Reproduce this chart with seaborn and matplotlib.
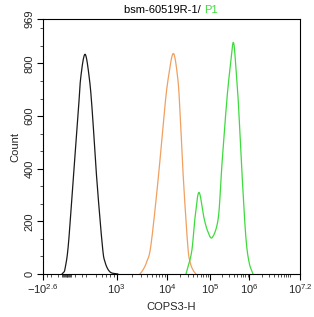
import numpy as np
import matplotlib
matplotlib.use("Agg")
import matplotlib.pyplot as plt
import seaborn as sns

# ---------------- data ----------------
black_x = [-50, -35, -16, 20, 77, 144, 183, 267, 377, 432, 504, 612, 671, 796, 1060]
black_y = [0, 5, 20, 110, 365, 616, 745, 835, 745, 616, 365, 110, 46, 8, 0]

orange_x = [2880, 3300, 3920, 4760, 6640, 8730, 10550, 13830, 17540, 19860,
            23730, 30060, 34040, 40000, 47000]
orange_y = [0, 15, 46, 110, 365, 616, 745, 838, 745, 616, 365, 110, 46, 15, 0]

green_x = [27400, 37200, 44500, 55200, 72300, 89700, 114500, 162500, 198000,
           266000, 323000, 392000, 459000, 525000, 641000, 809000, 982000, 1233000]
green_y = [0, 85, 213, 310, 213, 160, 139, 213, 402, 655, 781, 880, 781, 655,
           402, 148, 46, 0]

ytick_vals = [0, 200, 400, 600, 800, 969]
xtick_vals = [-10 ** 2.6, 1e3, 1e4, 1e5, 1e6, 10 ** 7.2]
xtick_labels = [r"$-10^{2.6}$", r"$10^{3}$", r"$10^{4}$", r"$10^{5}$",
                r"$10^{6}$", r"$10^{7.2}$"]
title_main = "bsm-60519R-1/ "
title_gate = "P1"
xlabel = "COPS3-H"
ylabel = "Count"

# ---------------- style ----------------
sns.set_style("ticks")
plt.rcParams["font.family"] = ["Liberation Sans", "DejaVu Sans"]
plt.rcParams["mathtext.fontset"] = "custom"
plt.rcParams["mathtext.rm"] = "Liberation Sans"
plt.rcParams["mathtext.it"] = "Liberation Sans"
plt.rcParams["mathtext.bf"] = "Liberation Sans"
FS = 8

# ---------------- display transform (logicle-like axis) ----------------
_C = 150.0
_ANCH = np.array([-10 ** 2.6, 0, 10 ** 2.6, 1e3, 1e4, 1e5, 1e6, 1e7, 10 ** 7.2])
_G = np.arcsinh(_ANCH / _C)
_P = np.array([0.0, 23.5, 47.0, 73.7, 124.3, 167.0, 206.3, 247.0, 257.0])


def _interp(v, xp, fp):
    v = np.asarray(v, dtype=float)
    shp = v.shape
    v = np.atleast_1d(v)
    out = np.interp(v, xp, fp)
    lo = v < xp[0]
    hi = v > xp[-1]
    out[lo] = fp[0] + (v[lo] - xp[0]) * (fp[1] - fp[0]) / (xp[1] - xp[0])
    out[hi] = fp[-1] + (v[hi] - xp[-1]) * (fp[-1] - fp[-2]) / (xp[-1] - xp[-2])
    return out.reshape(shp)


def fwd(x):
    return _interp(np.arcsinh(np.asarray(x, dtype=float) / _C), _G, _P)


def inv(p):
    g = _interp(p, _P, _G)
    return _C * np.sinh(np.clip(g, -700, 700))


def smooth(xs, ys, n=24):
    u = fwd(np.array(xs, dtype=float))
    y = np.array(ys, dtype=float)
    pu = np.concatenate([[2 * u[0] - u[1]], u, [2 * u[-1] - u[-2]]])
    py = np.concatenate([[2 * y[0] - y[1]], y, [2 * y[-1] - y[-2]]])
    uu, yy = [], []
    t = np.linspace(0, 1, n, endpoint=False)
    for i in range(1, len(pu) - 2):
        for arr, res in ((pu, uu), (py, yy)):
            p0, p1, p2, p3 = arr[i - 1], arr[i], arr[i + 1], arr[i + 2]
            res.extend(0.5 * ((2 * p1) + (-p0 + p2) * t
                              + (2 * p0 - 5 * p1 + 4 * p2 - p3) * t ** 2
                              + (-p0 + 3 * p1 - 3 * p2 + p3) * t ** 3))
    uu.append(u[-1])
    yy.append(y[-1])
    return inv(np.array(uu)), np.clip(np.array(yy), 0, None)


# ---------------- figure ----------------
fig = plt.figure(figsize=(3.14, 3.17), dpi=100)
ax = fig.add_axes([43 / 314, 1 - 274 / 317, 257 / 314, 255 / 317])
ax.set_xscale("function", functions=(fwd, inv))

for xs, ys, col in ((black_x, black_y, "#1a1a1a"),
                    (orange_x, orange_y, "#f0a060"),
                    (green_x, green_y, "#3edb3e")):
    sx, sy = smooth(xs, ys)
    sns.lineplot(x=sx, y=sy, ax=ax, sort=False, estimator=None,
                 color=col, linewidth=0.9)

ax.set_xlim(-10 ** 2.6, 10 ** 7.2)
ax.set_ylim(0, 969)

# y ticks
ax.set_yticks(ytick_vals)
ax.set_yticklabels([str(v) for v in ytick_vals], rotation=90, va="center",
                   fontsize=FS)
ax.set_yticks([v for v in np.arange(0, 969, 200 / 3) if min(abs(v - np.array(ytick_vals))) > 1],
              minor=True)

# x ticks
ax.set_xticks(xtick_vals)
ax.set_xticklabels(xtick_labels, fontsize=FS)
xminor = [-300, -200, -100] + list(range(-50, 51, 10)) + [100, 200, 300] + \
         list(range(500, 1000, 100))
for k in range(3, 7):
    xminor += [m * 10 ** k for m in range(2, 10)]
xminor.append(1e7)
ax.set_xticks(xminor, minor=True)

ax.tick_params(which="major", length=4, width=0.8, color="black", pad=2,
               direction="out")
ax.tick_params(which="minor", length=2.5, width=0.6, color="#333333",
               direction="out")
for s in ax.spines.values():
    s.set_visible(True)
    s.set_linewidth(0.8)
    s.set_color("black")

ax.set_xlabel(xlabel, fontsize=FS, labelpad=4)
ax.set_ylabel(ylabel, fontsize=FS, labelpad=3)

# two-colour title
fig.canvas.draw()
r = fig.canvas.get_renderer()
t1 = fig.text(0, 0, title_main, fontsize=FS, color="black")
t2 = fig.text(0, 0, title_gate, fontsize=FS, color="#3edb3e")
w1 = t1.get_window_extent(r).width
w2 = t2.get_window_extent(r).width
cx = 171.0
x0 = cx - (w1 + w2) / 2
ytitle = 1 - 13 / 317
t1.set_position((x0 / 314, ytitle))
t2.set_position(((x0 + w1) / 314, ytitle))

fig.savefig("out.png", dpi=100)
